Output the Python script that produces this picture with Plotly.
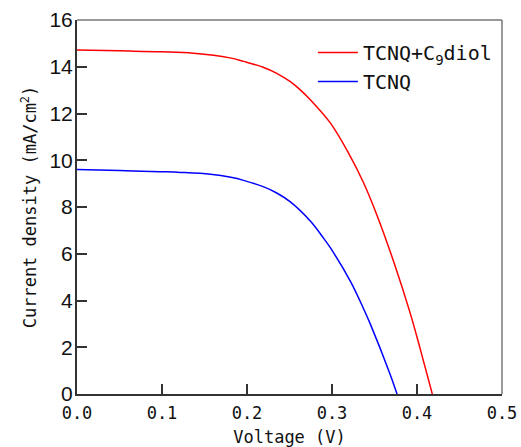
import plotly.graph_objects as go

# Data
red_name = "TCNQ+C<sub>9</sub>diol"
red_v = [0.0, 0.05, 0.10, 0.137, 0.18, 0.196, 0.219, 0.235, 0.251, 0.263, 0.275,
         0.298, 0.319, 0.337, 0.353, 0.372, 0.392, 0.404, 0.418]
red_j = [14.72, 14.68, 14.64, 14.58, 14.38, 14.23, 13.98, 13.72, 13.36, 13.00, 12.57,
         11.60, 10.34, 9.05, 7.64, 5.72, 3.46, 1.90, 0.0]

blue_name = "TCNQ"
blue_v = [0.0, 0.05, 0.098, 0.122, 0.157, 0.181, 0.196, 0.219, 0.235, 0.251, 0.275,
          0.290, 0.298, 0.322, 0.337, 0.345, 0.368, 0.3765]
blue_j = [9.60, 9.56, 9.51, 9.48, 9.40, 9.27, 9.14, 8.87, 8.60, 8.22, 7.38,
          6.67, 6.26, 4.80, 3.66, 3.00, 0.88, 0.0]

x_ticks = [0.0, 0.1, 0.2, 0.3, 0.4, 0.5]
y_ticks = [0, 2, 4, 6, 8, 10, 12, 14, 16]

mono = "DejaVu Sans Mono"

fig = go.Figure()
fig.add_trace(go.Scatter(x=red_v, y=red_j, mode="lines", name=red_name,
                         line=dict(color="#ff0000", width=1.5, shape="spline", smoothing=1.0)))
fig.add_trace(go.Scatter(x=blue_v, y=blue_j, mode="lines", name=blue_name,
                         line=dict(color="#0000ff", width=1.5, shape="spline", smoothing=1.0)))

fig.update_layout(
    width=521, height=447,
    margin=dict(l=77, r=19, t=20, b=53),
    paper_bgcolor="white", plot_bgcolor="white",
    showlegend=True,
    legend=dict(x=0.555, y=0.965, xanchor="left", yanchor="top",
                font=dict(family=mono, size=20, color="#111"),
                bgcolor="rgba(0,0,0,0)", tracegroupgap=0, itemwidth=40),
    xaxis=dict(range=[0, 0.5], tickvals=x_ticks, ticktext=[f"{v:.1f}" for v in x_ticks],
               ticks="inside", ticklen=10, tickwidth=2, tickcolor="#333",
               showline=True, linecolor="#333", linewidth=2, mirror=False,
               showgrid=False, zeroline=False, automargin=False,
               ticklabelstandoff=3,
               tickfont=dict(family=mono, size=17, color="#111"),
               title=dict(text="Voltage (V)", font=dict(family=mono, size=17, color="#111"), standoff=10)),
    yaxis=dict(range=[0, 16], tickvals=y_ticks,
               ticks="inside", ticklen=10, tickwidth=2, tickcolor="#333",
               showline=True, linecolor="#333", linewidth=2, mirror=False,
               showgrid=False, zeroline=False, automargin=False,
               ticklabelstandoff=-2,
               tickfont=dict(family="Liberation Sans Narrow, Liberation Sans", size=21, color="#111"),
               title=dict(text="Current density (mA/cm<sup>2</sup>)",
                          font=dict(family=mono, size=17, color="#111"), standoff=8)),
)
# gray frame on top and right
fig.add_shape(type="line", xref="paper", yref="paper", x0=0, x1=1, y0=1, y1=1,
              line=dict(color="#777", width=1.5))
fig.add_shape(type="line", xref="paper", yref="paper", x0=1, x1=1, y0=0, y1=1,
              line=dict(color="#777", width=1.5))

fig.write_html("out.html", config={"displayModeBar": False},
               post_script="document.body.style.margin='0';document.body.style.overflow='hidden';")
